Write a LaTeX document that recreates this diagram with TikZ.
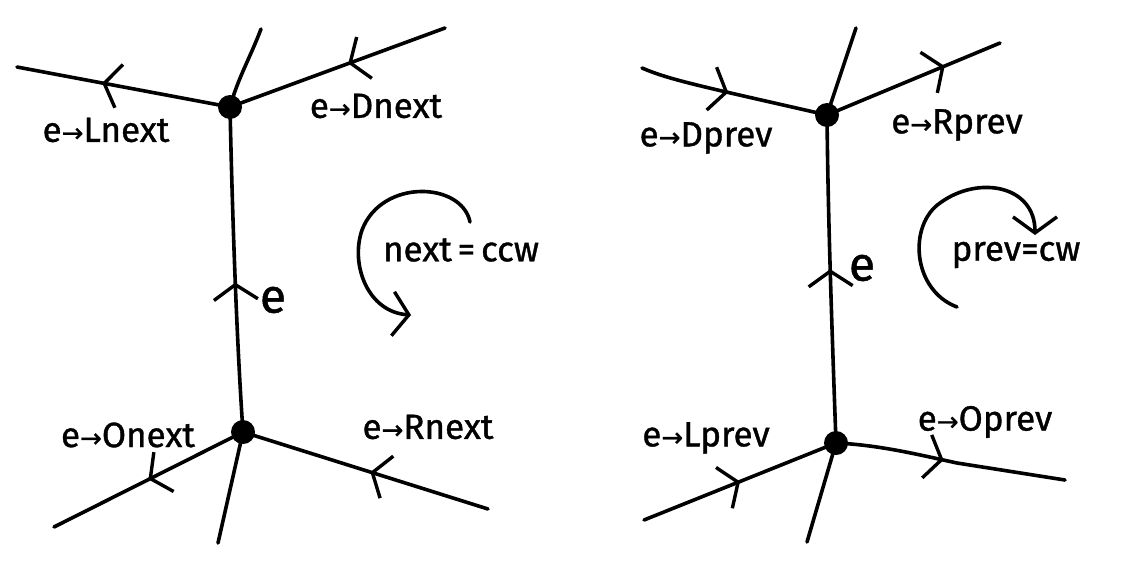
\documentclass[tikz,border=0pt]{standalone}
\usepackage{fontspec}
\setmainfont{Fira Sans}[FakeBold=1]
\newfontfamily\arrfont{DejaVu Sans}[FakeBold=1]
\usetikzlibrary{arrows.meta,decorations.markings}
\newcommand{\ar}{{\arrfont\fontsize{26}{26}\selectfont\char"2192}}
\tikzset{
  edge/.style={line width=3.6pt, line cap=round, draw=black},
  vtx/.style={circle, fill=black, minimum size=24pt, inner sep=0pt},
  lbl/.style={font=\fontsize{35}{36}\selectfont, inner sep=0pt},
  elbl/.style={font=\fontsize{48}{48}\selectfont, inner sep=0pt},
  midarr/.style={postaction={decorate, decoration={markings,
     mark=at position #1 with {\arrow{Straight Barb[length=15pt,width=44pt,line width=3.4pt]}}}}},
  turn/.style={line width=3.6pt, line cap=round, -{Straight Barb[length=16pt,width=44pt,line width=3.4pt]}}
}
\begin{document}
\begin{tikzpicture}[x=1pt,y=-1pt]
\useasboundingbox (0,0) rectangle (1126,560);
\fill[white] (0,0) rectangle (1126,560);
% ---------- left diagram ----------
\node[vtx] (A) at (230,107) {};
\node[vtx] (B) at (243,432) {};
\coordinate (a1) at (17,67);
\coordinate (a2) at (261,29);
\coordinate (a3) at (445,28);
\coordinate (b1) at (54,527);
\coordinate (b2) at (218,543);
\coordinate (b3) at (488,509);
\draw[edge, midarr=0.6] (A.center) -- (a1);
\draw[edge] (A.center) .. controls (238,78) and (250,58) .. (a2);
\draw[edge, midarr=0.45] (a3) -- (A.center);
\draw[edge, midarr=0.46] (B.center) .. controls (236,330) and (232,200) .. (A.center);
\draw[edge, midarr=0.5] (B.center) -- (b1);
\draw[edge] (B.center) -- (b2);
\draw[edge, midarr=0.48] (b3) -- (B.center);
\node[lbl] (lnext) at (106,130) {e\ar Lnext};
\node[lbl] (dnext) at (376,106) {e\ar Dnext};
\node[lbl] (onext) at (128,435) {e\ar Onext};
\node[lbl] (rnext) at (428,427) {e\ar Rnext};
\node[elbl] (e1) at (273,300) {e};
\node[lbl] (ccw) at (461,250) {next\,=\,ccw};
\coordinate (t1s) at (470,222);
\coordinate (t1e) at (411,315);
\draw[turn] (t1s) .. controls (462,182) and (382,178) .. (362,230)
   .. controls (350,265) and (368,312) .. (t1e);
% ---------- right diagram ----------
\node[vtx] (C) at (827,115) {};
\node[vtx] (D) at (836,443) {};
\coordinate (c1) at (642,68);
\coordinate (c2) at (856,28);
\coordinate (c3) at (1000,43);
\coordinate (d1) at (644,520);
\coordinate (d2) at (807,542);
\coordinate (d3) at (1065,480);
\draw[edge, midarr=0.47] (c1) .. controls (670,80) and (700,86) .. (C.center);
\draw[edge] (C.center) -- (c2);
\draw[edge, midarr=0.68] (C.center) -- (c3);
\draw[edge, midarr=0.53] (D.center) .. controls (832,330) and (828,220) .. (C.center);
\draw[edge, midarr=0.5] (d1) -- (D.center);
\draw[edge] (D.center) -- (d2);
\draw[edge, midarr=0.47] (D.center) .. controls (880,445) and (920,455) .. (957,463) -- (d3);
\node[lbl] (dprev) at (706,138) {e\ar Dprev};
\node[lbl] (rprev) at (957,125) {e\ar Rprev};
\node[lbl] (lprev) at (706,438) {e\ar Lprev};
\node[lbl] (oprev) at (985,422) {e\ar Oprev};
\node[elbl] (e2) at (862,268) {e};
\node[lbl] (cw) at (1016,255) {prev=cw};
\coordinate (t2s) at (957,307);
\coordinate (t2e) at (1035,235);
\draw[turn] (t2s) .. controls (912,290) and (908,225) .. (940,203)
   .. controls (978,175) and (1035,185) .. (t2e);
\end{tikzpicture}
\end{document}
